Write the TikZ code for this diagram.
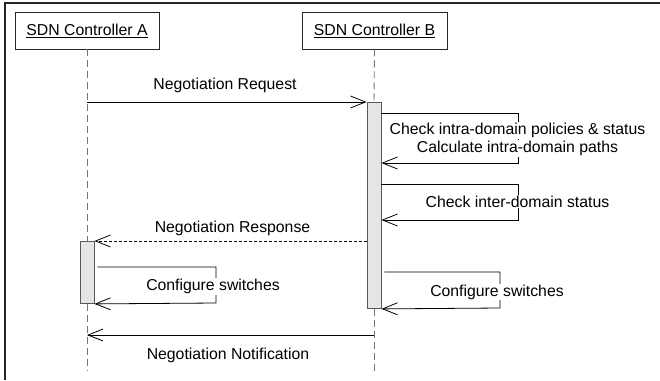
\documentclass[tikz,border=0pt]{standalone}
\usepackage{fontspec}
\setmainfont{Liberation Sans}
\usetikzlibrary{arrows.meta}
\begin{document}
\begin{tikzpicture}[x=1pt,y=-1pt,
  every node/.style={font=\fontsize{15.8}{19}\selectfont},
  actor/.style={draw=black!85, line width=0.8pt, minimum width=144pt, minimum height=37pt, inner sep=0pt},
  lifeline/.style={draw=black!55, line width=0.9pt, dash pattern=on 7pt off 4pt},
  activation/.style={draw=black!65, fill=black!10, line width=0.9pt, minimum width=14pt, inner sep=0pt, anchor=north},
  msg/.style={draw=black, line width=0.8pt, -{Straight Barb[length=15pt,width=12pt]}},
  reply/.style={msg, dash pattern=on 3pt off 2pt},
  lbl/.style={fill=white, inner sep=1pt, anchor=base},
]
\useasboundingbox (0,0) rectangle (660,380);

% frame
\draw[line width=1.5pt, black!85] (5,380) -- (5,3) -- (660,3);

% participants
\node[actor] (ctrlA) at (87,30.5) {\underline{SDN Controller A}};
\node[actor, minimum width=145pt] (ctrlB) at (374.5,30.5) {\underline{SDN Controller B}};

% activation bars
\node[activation, minimum height=206pt] (barB) at (374,102) {};
\node[activation, minimum height=62pt] (barA) at (87,241) {};

% lifeline ends and message levels
\coordinate (endA) at (87,371);
\coordinate (endB) at (374,371);
\coordinate (r1) at (518,113);  \coordinate (r1b) at (518,163);
\coordinate (r2) at (518,184);  \coordinate (r2b) at (518,220);
\coordinate (ca) at (216,267);  \coordinate (cab) at (216,303);
\coordinate (cb) at (500,272);  \coordinate (cbb) at (500,308);
\coordinate (n1) at (374,335);

% lifelines
\draw[lifeline] (ctrlA.south) -- (barA.north);
\draw[lifeline] (barA.south) -- (endA);
\draw[lifeline] (ctrlB.south) -- (barB.north);
\draw[lifeline] (barB.south) -- (endB);

% messages
\draw[msg] (ctrlA.south |- barB.north) -- (barB.north west);
\draw[msg] (barB.east |- r1) -- (r1) -- (r1b) -- (barB.east |- r1b);
\draw[msg] (barB.east |- r2) -- (r2) -- (r2b) -- (barB.east |- r2b);
\draw[reply] (barB.west |- barA.north) -- (barA.north east);
\draw[msg] ([xshift=3pt]barA.east |- ca) -- (ca) -- (cab) -- (barA.south east);
\draw[msg] ([xshift=3pt]barB.east |- cb) -- (cb) -- (cbb) -- (barB.south east);
\draw[msg] (n1) -- (ctrlA.south |- n1);

% labels
\node[lbl] (l1) at (225,89) {Negotiation Request};
\node[lbl] (l2) at (517.5,134.5) {Check intra-domain policies \& status};
\node[lbl] (l3) at (517.5,152.7) {Calculate intra-domain paths};
\node[lbl] (l4) at (517.5,207) {Check inter-domain status};
\node[lbl] (l5) at (232.5,232.5) {Negotiation Response};
\node[lbl] (l6) at (213,290.5) {Configure switches};
\node[lbl] (l7) at (497,296) {Configure switches};
\node[lbl] (l8) at (228,359) {Negotiation Notification};
\end{tikzpicture}
\end{document}
